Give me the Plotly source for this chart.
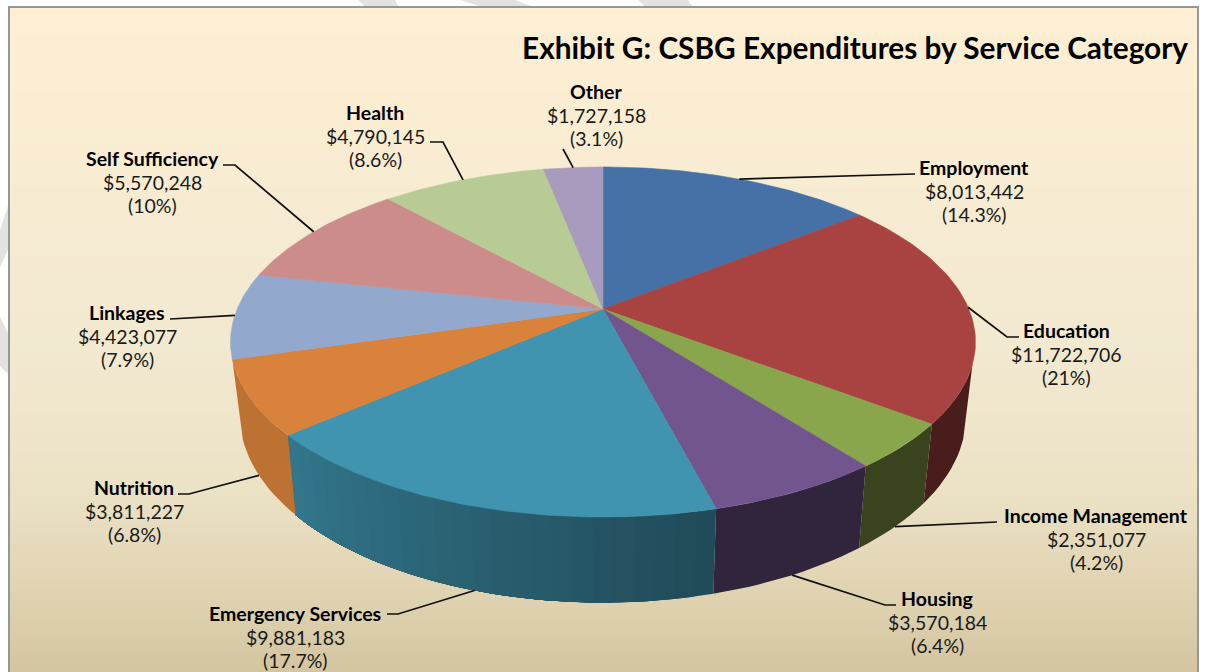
import math
import numpy as np
import plotly.graph_objects as go

# ---- data ----
categories = ["Employment", "Education", "Income Management", "Housing", "Emergency Services",
              "Nutrition", "Linkages", "Self Sufficiency", "Health", "Other"]
values = [8013442, 11722706, 2351077, 3570184, 9881183, 3811227, 4423077, 5570248, 4790145, 1727158]
percent_labels = ["14.3%", "21%", "4.2%", "6.4%", "17.7%", "6.8%", "7.9%", "10%", "8.6%", "3.1%"]
title_text = "Exhibit G: CSBG Expenditures by Service Category"

# ---- style ----
top_colors = ["#4571A6", "#A84341", "#8AA64C", "#72558F", "#4094AF",
              "#D9823B", "#92A8CD", "#CC8C8C", "#B9CB94", "#A99BBE"]
side_shade = {1: (.44, .44), 2: (.41, .41), 3: (.43, .43), 4: (.5, .8), 5: (.87, .87)}
label_pos = [(974, 191), (1066, 354), (1096, 539), (937, 622), (295, 637),
             (134, 511), (127, 336), (152, 182), (375, 136), (596, 115)]
leader_via = [[(915, 174)], [(1007, 337), (1019, 337)], [(983, 522), (997, 522)],
              [(885, 605), (896, 605)], [(398, 614), (387, 614)], [(189, 494), (178, 494)],
              [(180, 319), (170, 319)], [(235, 165), (223, 165)], [(443, 142), (430, 142)],
              [(563, 149)]]
leader_on_base = [False, False, True, True, True, True, False, False, False, False]
FONT = "Lato"
LINE_GAP = 23.7

# ---- projection of the pie (perspective disc) onto the pixel axes ----
CX, CY, A, B, K = 603.0, 309.0, 365.8, 168.8, 0.1886
BASE_X, BASE_DY, BASE_Y = 0.975, 71.0, 1.07
WALL_FROM = math.pi * .6


def top_pt(theta):
    u, v = math.sin(theta), math.cos(theta)
    d = 1 + K * v
    return CX + A * u / d, CY - B * v / d


def base_pt(theta):
    x, y = top_pt(theta)
    return CX + BASE_X * (x - CX), CY + BASE_DY + BASE_Y * (y - CY)


def mix(color, f):
    r, g, b = int(color[1:3], 16), int(color[3:5], 16), int(color[5:7], 16)
    return f"rgb({r*f:.0f},{g*f:.0f},{b*f:.0f})"


total = sum(values)
edges = np.cumsum([0] + values) / total * 2 * math.pi
fig = go.Figure()

# background gradient (cell edges given explicitly)
ys = np.linspace(7, 672, 334)
mids = (ys[:-1] + ys[1:]) / 2
stops = [(0, "#FEEFD3"), (.5, "#F2E9D1"), (.72, "#ECE2C6"), (.9, "#DED1AF"), (1, "#D3C5A0")]
fig.add_trace(go.Heatmap(x=[9, 1198], y=ys, z=[[m] for m in mids], colorscale=stops, showscale=False,
                         hoverinfo="skip", zmin=7, zmax=672))


def add_wall(lo, hi, col):
    arc = np.linspace(lo, hi, max(4, int((hi - lo) / math.radians(1.5))))
    xs = [top_pt(a)[0] for a in arc] + [base_pt(a)[0] for a in arc[::-1]]
    yy = [top_pt(a)[1] for a in arc] + [base_pt(a)[1] for a in arc[::-1]]
    fig.add_trace(go.Scatter(x=xs, y=yy, fill="toself", fillcolor=col, mode="lines",
                             line=dict(width=0), hoverinfo="skip", showlegend=False))


# side walls: front slices only, later strips painted over earlier ones so no seams show
for i, shade in side_shade.items():
    a0, a1 = edges[i], edges[i + 1]
    lo = max(a0, WALL_FROM)
    if shade[0] == shade[1]:
        add_wall(lo, a1, mix(top_colors[i], shade[0]))
    else:
        n = 24
        grid = np.linspace(lo, a1, n + 1)
        for j in range(n):
            f = shade[0] + (shade[1] - shade[0]) * (j + .5) / n
            add_wall(grid[j], a1, mix(top_colors[i], f))

# top faces
for i, c in enumerate(top_colors):
    arc = np.linspace(edges[i], edges[i + 1], 60)
    xs = [CX] + [top_pt(a)[0] for a in arc] + [CX]
    yy = [CY] + [top_pt(a)[1] for a in arc] + [CY]
    fig.add_trace(go.Scatter(x=xs, y=yy, fill="toself", fillcolor=c, mode="lines", name=categories[i],
                             line=dict(color=c, width=0.6), showlegend=False,
                             hovertemplate=f"{categories[i]}: ${values[i]:,}<extra></extra>"))

# leaders and labels
for i, name in enumerate(categories):
    mid = (edges[i] + edges[i + 1]) / 2
    start = base_pt(mid) if leader_on_base[i] else top_pt(mid)
    pts = [start] + leader_via[i]
    fig.add_trace(go.Scatter(x=[p[0] for p in pts], y=[p[1] for p in pts], mode="lines",
                             line=dict(color="#101010", width=1.7), hoverinfo="skip", showlegend=False))
    lx, ly = label_pos[i]
    fig.add_annotation(x=lx, y=ly - LINE_GAP, showarrow=False, xanchor="center", yanchor="middle",
                       font=dict(family=FONT, size=19.5, color="#000", weight=700), text=name)
    fig.add_annotation(x=lx, y=ly, showarrow=False, xanchor="center", yanchor="middle",
                       font=dict(family=FONT, size=19.5, color="#1a1a1a"), text=f"${values[i]:,}")
    fig.add_annotation(x=lx, y=ly + LINE_GAP, showarrow=False, xanchor="center", yanchor="middle",
                       font=dict(family=FONT, size=19.5, color="#1a1a1a"), text=f"({percent_labels[i]})")

fig.add_annotation(x=1190, y=47, showarrow=False, xanchor="right", yanchor="middle",
                   font=dict(family=FONT, size=29.8, color="#000", weight=700), text=title_text)

# watermark bands on the page behind the frame, and the frame
band_color = "#E2E2E2"
bands = ["M358,0 L365,7 L399,7 L395,0 Z", "M460,0 L482,7 L533,7 L515,0 Z", "M638,0 L645,7 L693,7 L688,0 Z",
         "M0,230 L8,206 L8,250 L0,267 Z", "M0,317 L8,333 L8,374 L0,366 Z"]
shapes = [dict(type="path", path=p, fillcolor=band_color, line_width=0, layer="below") for p in bands]
shapes.append(dict(type="rect", x0=9, y0=7, x1=1198, y1=690, line=dict(color="#969696", width=2),
                   fillcolor="rgba(0,0,0,0)", layer="above"))

fig.update_layout(width=1206, height=672, margin=dict(l=0, r=0, t=0, b=0), paper_bgcolor="white",
                  plot_bgcolor="white", shapes=shapes, showlegend=False,
                  xaxis=dict(range=[0, 1206], visible=False, fixedrange=True),
                  yaxis=dict(range=[672, 0], visible=False, fixedrange=True))
fig.write_html("out.html", config=dict(displayModeBar=False),
               post_script="document.body.style.margin='0';document.body.style.overflow='hidden';")
